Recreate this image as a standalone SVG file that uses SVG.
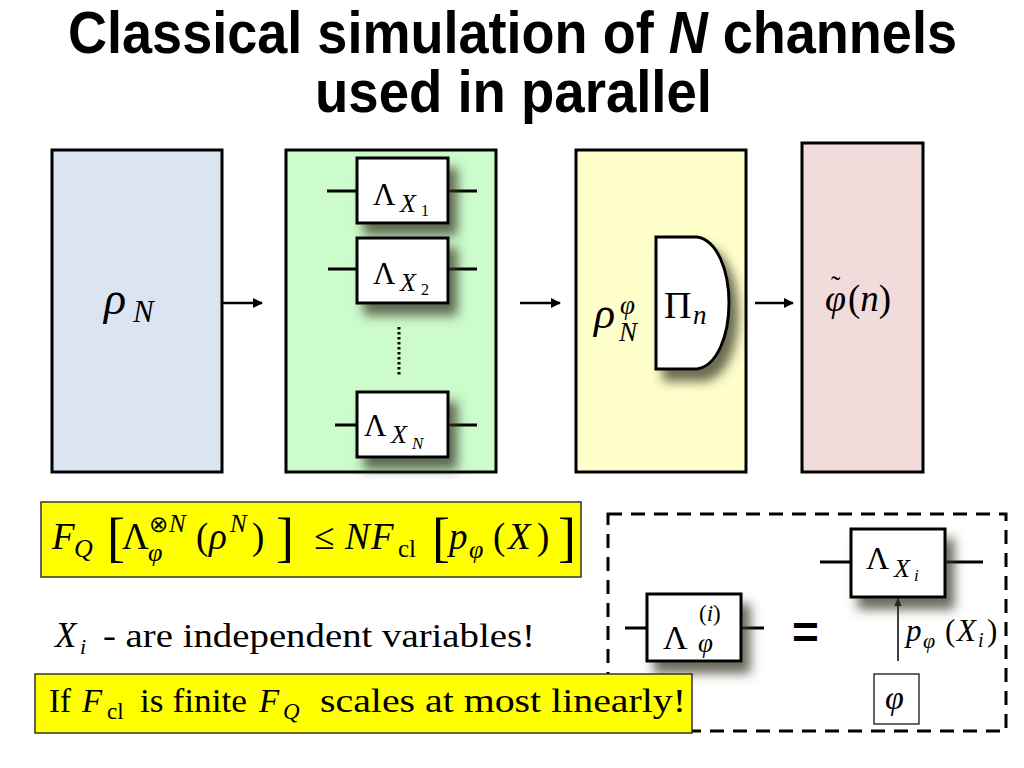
<svg xmlns="http://www.w3.org/2000/svg" width="1024" height="768" viewBox="0 0 1024 768">
<style>
.t{font-family:"Liberation Serif","Times New Roman",serif;fill:#000}
.i{font-style:italic}
.title{font-family:"Liberation Sans",Arial,sans-serif;font-weight:bold;font-size:60px;fill:#000}
.big{stroke:#000;stroke-width:3}
.wb{fill:#fff;stroke:#000;stroke-width:3}
.wire{stroke:#000;stroke-width:3;fill:none}
.conn{stroke:#000;stroke-width:2.5;fill:none}
</style>
<defs>
<filter id="sh" x="-30%" y="-30%" width="170%" height="180%">
<feGaussianBlur in="SourceAlpha" stdDeviation="5.5"/>
<feOffset dx="8" dy="11" result="b"/>
<feFlood flood-color="#3a3a28" flood-opacity="0.75"/>
<feComposite in2="b" operator="in"/>
<feMerge><feMergeNode/><feMergeNode in="SourceGraphic"/></feMerge>
</filter>
<marker id="ah" viewBox="0 0 10 10" refX="9" refY="5" markerWidth="4" markerHeight="4" orient="auto" markerUnits="strokeWidth">
<path d="M0,0 L10,5 L0,10 Z" fill="#000"/>
</marker>
<marker id="ah2" viewBox="0 0 10 10" refX="9" refY="5" markerWidth="6" markerHeight="6" orient="auto" markerUnits="strokeWidth">
<path d="M0,1 L10,5 L0,9 Z" fill="#000"/>
</marker>
</defs>
<rect width="1024" height="768" fill="#fff"/>

<g id="title">
<text class="title" x="68" y="53" textLength="889" lengthAdjust="spacingAndGlyphs">Classical simulation of <tspan font-style="italic">N</tspan> channels</text>
<text class="title" x="315" y="112" textLength="397" lengthAdjust="spacingAndGlyphs">used in parallel</text>
</g>

<g id="node-rho">
<rect class="big" x="52" y="150" width="170" height="322" fill="#dbe5f1"/>
<text class="t i" x="104" y="314" font-size="46">ρ</text>
<text class="t i" x="133" y="322" font-size="31">N</text>
</g>

<g id="node-channels">
<rect class="big" x="286" y="150" width="210" height="322" fill="#ccfccc"/>
<path class="wire" d="M327,191 H357 M448,191 H477 M328,269 H357 M448,269 H477 M335,425 H357 M448,425 H477"/>
<rect class="wb" x="357" y="158" width="91" height="65" filter="url(#sh)"/>
<rect class="wb" x="357" y="238" width="91" height="65" filter="url(#sh)"/>
<rect class="wb" x="357" y="392" width="91" height="65" filter="url(#sh)"/>
<line x1="399" y1="327" x2="399" y2="376" stroke="#000" stroke-width="3" stroke-dasharray="2.5 2.5"/>
<text class="t" x="373" y="205" font-size="31">Λ</text>
<text class="t i" x="400" y="212" font-size="26">X</text>
<text class="t" x="421" y="216" font-size="16">1</text>
<text class="t" x="373" y="284" font-size="31">Λ</text>
<text class="t i" x="400" y="291" font-size="26">X</text>
<text class="t" x="421" y="295" font-size="16">2</text>
<text class="t" x="364" y="436" font-size="31">Λ</text>
<text class="t i" x="391" y="443" font-size="26">X</text>
<text class="t i" x="412" y="449" font-size="17">N</text>
</g>

<g id="node-measure">
<rect class="big" x="576" y="150" width="170" height="322" fill="#ffffcc"/>
<path class="wb" d="M656,237 H697 C717,240 729,270 729,303 C729,336 717,366 697,369 H656 Z" filter="url(#sh)"/>
<text class="t i" x="594" y="328" font-size="44">ρ</text>
<text class="t i" x="620" y="314" font-size="27">φ</text>
<text class="t i" x="619" y="341" font-size="27">N</text>
<text class="t" x="664" y="318" font-size="38">Π</text>
<text class="t i" x="693" y="324" font-size="27">n</text>
</g>

<g id="node-estimate">
<rect class="big" x="802" y="143" width="121" height="329" fill="#f2dcdb"/>
<text class="t i" x="825" y="311" font-size="38">φ</text>
<text class="t" x="831" y="295" font-size="28">˜</text>
<text class="t" x="848" y="311" font-size="37">(<tspan font-style="italic">n</tspan>)</text>
</g>

<g id="connectors">
<line class="conn" x1="222" y1="303" x2="262" y2="303" marker-end="url(#ah)"/>
<line class="conn" x1="520" y1="303" x2="560" y2="303" marker-end="url(#ah)"/>
<line class="conn" x1="755" y1="303" x2="793" y2="303" marker-end="url(#ah)"/>
<line x1="898" y1="661" x2="898" y2="598" stroke="#000" stroke-width="1.5" marker-end="url(#ah2)"/>
</g>

<g id="formula">
<rect x="41" y="502" width="540" height="75" fill="#ffff00" stroke="#333" stroke-width="1.5"/>
<text class="t i" x="52" y="549" font-size="37">F</text>
<text class="t i" x="74" y="557" font-size="26">Q</text>
<text class="t" x="107" y="556" font-size="54">[</text>
<text class="t" x="122" y="549" font-size="37">Λ</text>
<text class="t i" x="148" y="561" font-size="26">φ</text>
<text class="t" x="149" y="532" font-size="23">⊗</text>
<text class="t i" x="169" y="532" font-size="25">N</text>
<text class="t" x="196" y="549" font-size="37">(</text>
<text class="t i" x="209" y="549" font-size="37">ρ</text>
<text class="t i" x="230" y="532" font-size="25">N</text>
<text class="t" x="252" y="549" font-size="37">)</text>
<text class="t" x="276" y="556" font-size="54">]</text>
<text class="t" x="314" y="549" font-size="37">≤</text>
<text class="t i" x="345" y="549" font-size="37">N</text>
<text class="t i" x="371" y="549" font-size="37">F</text>
<text class="t" x="398" y="557" font-size="25">cl</text>
<text class="t" x="432" y="556" font-size="54">[</text>
<text class="t i" x="449" y="549" font-size="37">p</text>
<text class="t i" x="469" y="558" font-size="26">φ</text>
<text class="t" x="493" y="549" font-size="37">(</text>
<text class="t i" x="508" y="549" font-size="37">X</text>
<text class="t" x="537" y="549" font-size="37">)</text>
<text class="t" x="558" y="556" font-size="54">]</text>
</g>

<g id="note-independent">
<text class="t i" x="55" y="647" font-size="35">X</text>
<text class="t i" x="80" y="654" font-size="22">i</text>
<text class="t" x="103" y="647" font-size="33" textLength="432" lengthAdjust="spacingAndGlyphs">- are independent variables!</text>
</g>

<g id="node-equivalence">
<rect x="608" y="514" width="398" height="217" fill="none" stroke="#000" stroke-width="3" stroke-dasharray="14 9"/>
<path class="wire" d="M625,628 H647 M741,628 H764 M820,562 H851 M945,562 H983"/>
<rect class="wb" x="647" y="594" width="94" height="67" filter="url(#sh)"/>
<rect class="wb" x="851" y="529" width="94" height="68" filter="url(#sh)"/>
<text class="t" x="663" y="649" font-size="34">Λ</text>
<text class="t" x="699" y="621" font-size="23">(<tspan font-style="italic">i</tspan>)</text>
<text class="t i" x="698" y="652" font-size="27">φ</text>
<text x="792" y="648" font-family="Liberation Sans,Arial,sans-serif" font-weight="bold" font-size="46">=</text>
<text class="t" x="866" y="569" font-size="32">Λ</text>
<text class="t i" x="894" y="577" font-size="26">X</text>
<text class="t i" x="914" y="581" font-size="17">i</text>
<text class="t i" x="906" y="641" font-size="31">p</text>
<text class="t i" x="923" y="648" font-size="22">φ</text>
<text class="t" x="945" y="641" font-size="31">(</text>
<text class="t i" x="957" y="641" font-size="31">X</text>
<text class="t i" x="978" y="647" font-size="20">i</text>
<text class="t" x="987" y="641" font-size="31">)</text>
<rect x="874" y="674" width="45" height="50" fill="#fff" stroke="#000" stroke-width="1.2"/>
<text class="t i" x="885" y="709" font-size="34">φ</text>
</g>

<g id="note-scaling">
<rect x="35" y="674" width="657" height="59" fill="#ffff00" stroke="#333" stroke-width="1.5"/>
<text class="t" x="49" y="712" font-size="33">If</text>
<text class="t i" x="82" y="712" font-size="33">F</text>
<text class="t" x="107" y="719" font-size="23">cl</text>
<text class="t" x="140" y="712" font-size="33" textLength="107" lengthAdjust="spacingAndGlyphs">is finite</text>
<text class="t i" x="259" y="712" font-size="33">F</text>
<text class="t i" x="283" y="719" font-size="23">Q</text>
<text class="t" x="320" y="712" font-size="33" textLength="366" lengthAdjust="spacingAndGlyphs">scales at most linearly!</text>
</g>
</svg>
